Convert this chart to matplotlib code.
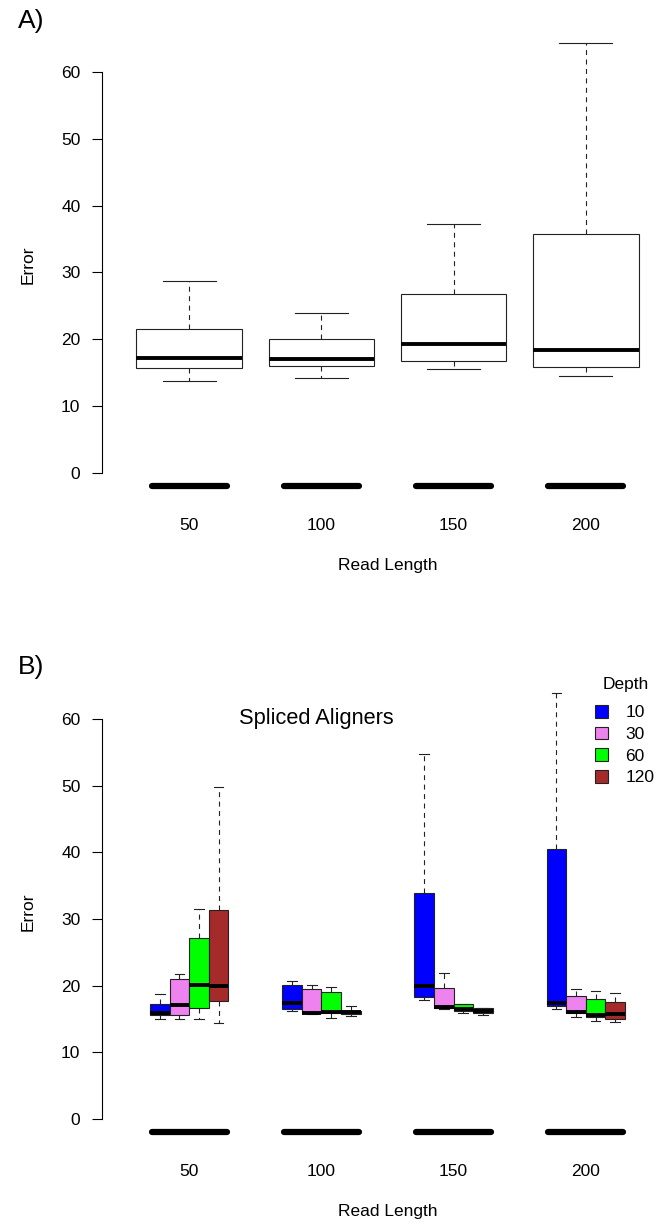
import numpy as np
import matplotlib
matplotlib.use("Agg")
from matplotlib import pyplot as plt
from matplotlib.patches import Patch

read_lengths = ["50", "100", "150", "200"]
depths = ["10", "30", "60", "120"]
depth_colors = ["#0000FF", "#EE82EE", "#00FF00", "#A52A2A"]

# panel A - one box per read length
a_whislo = [13.75, 14.2, 15.55, 14.55]
a_q1 = [15.65, 16.0, 16.7, 15.8]
a_med = [17.15, 17.1, 19.25, 18.45]
a_q3 = [21.55, 20.05, 26.75, 35.8]
a_whishi = [28.7, 23.95, 37.3, 64.4]

# panel B - rows are read lengths, columns are depths
b_whislo = [[15.06, 15.06, 14.97, 14.37],
            [16.22, 15.77, 15.22, 15.47],
            [17.92, 16.50, 15.92, 15.57],
            [16.47, 15.37, 14.72, 14.61]]
b_q1 = [[15.57, 15.57, 16.62, 17.72],
        [16.57, 15.85, 15.90, 15.80],
        [18.32, 16.62, 16.27, 15.87],
        [16.92, 15.87, 15.32, 15.06]]
b_med = [[15.87, 17.07, 20.07, 19.92],
         [17.35, 15.95, 16.00, 16.00],
         [19.97, 16.77, 16.47, 16.17],
         [17.47, 16.02, 15.57, 15.72]]
b_q3 = [[17.27, 21.07, 27.07, 31.33],
        [20.10, 19.45, 19.07, 16.25],
        [33.93, 19.72, 17.22, 16.62],
        [40.55, 18.52, 18.02, 17.52]]
b_whishi = [[18.72, 21.72, 31.48, 49.80],
            [20.77, 20.10, 19.87, 16.92],
            [54.75, 21.97, 17.30, 16.70],
            [63.90, 19.57, 19.22, 18.92]]

# the thick bars drawn below zero in both panels
floor_value = -2.0

plt.rcParams['font.family'] = ['Liberation Sans', 'DejaVu Sans']
base = 12.5
edge = "#222222"

fig = plt.figure(figsize=(6.58, 12.28), dpi=100)
axA = fig.add_axes([0.155, 0.5893, 0.8678, 0.3902])
axB = fig.add_axes([0.155, 0.06327, 0.8678, 0.38926])

def style_axis(ax):
    ax.set_xlim(0.34, 4.66)
    ax.set_ylim(-4.7, 67)
    for s in ['top', 'right', 'bottom']:
        ax.spines[s].set_visible(False)
    ax.spines['left'].set_bounds(0, 60)
    ax.spines['left'].set_linewidth(0.8)
    ax.set_yticks([0, 10, 20, 30, 40, 50, 60])
    ax.tick_params(axis='y', length=7.5, width=0.8, pad=8, labelsize=base)
    ax.tick_params(axis='x', length=0, pad=10, labelsize=base)
    ax.set_xlabel("Read Length", fontsize=base, labelpad=18)
    ax.set_ylabel("Error", fontsize=base, labelpad=18)
    ax.patch.set_alpha(0)
    pos = np.arange(1, 5)
    ax.hlines([floor_value] * 4, pos - 0.285, pos + 0.285, color="black",
              linewidth=4.5, capstyle='round')

def make_stats(lo, q1, med, q3, hi):
    return [dict(whislo=a, q1=b, med=c, q3=d, whishi=e)
            for a, b, c, d, e in zip(lo, q1, med, q3, hi)]

whisk = dict(color=edge, linewidth=0.8, linestyle=(0, (4.5, 4)))
caps = dict(color=edge, linewidth=0.8)
meds = dict(color="black", linewidth=2.8, solid_capstyle='butt')
boxes = dict(edgecolor=edge, linewidth=0.8)

# panel A
style_axis(axA)
statsA = make_stats(a_whislo, a_q1, a_med, a_q3, a_whishi)
bp = axA.bxp(statsA, positions=[1, 2, 3, 4], widths=0.8, showfliers=False,
             patch_artist=True, boxprops=boxes, whiskerprops=whisk,
             capprops=caps, medianprops=meds, capwidths=0.4)
for b in bp['boxes']:
    b.set_facecolor("white")
axA.set_xticks(range(1, 5))
axA.set_xticklabels(read_lengths)

# panel B
style_axis(axB)
bw = 0.148
offsets = np.array([-1.5, -0.5, 0.5, 1.5]) * bw
for j in range(4):
    statsB = make_stats([r[j] for r in b_whislo], [r[j] for r in b_q1],
                        [r[j] for r in b_med], [r[j] for r in b_q3],
                        [r[j] for r in b_whishi])
    bp = axB.bxp(statsB, positions=np.arange(1, 5) + offsets[j], widths=bw,
                 showfliers=False, patch_artist=True, boxprops=boxes,
                 whiskerprops=whisk, capprops=caps, medianprops=meds,
                 capwidths=bw * 0.5)
    for b in bp['boxes']:
        b.set_facecolor(depth_colors[j])
axB.set_xticks(range(1, 5))
axB.set_xticklabels(read_lengths)
axB.text(1.96, 60.0, "Spliced Aligners", fontsize=base * 1.25,
         ha='center', va='center')

# legend, title drawn separately so its gap matches R
handles = [Patch(facecolor=c, edgecolor=edge, linewidth=0.8) for c in depth_colors]
leg = fig.legend(handles, depths, loc='upper left',
                 bbox_to_anchor=(595 / 658, 1 - 705 / 1228), frameon=False,
                 fontsize=base, handlelength=0.75,
                 handleheight=0.75, handletextpad=1.0, labelspacing=0.36,
                 borderaxespad=0, borderpad=0)
fig.text(626 / 658, 1 - 684 / 1228, "Depth", fontsize=base,
         ha='center', va='center')

fig.text(18 / 658, 1 - 21 / 1228, "A)", fontsize=19, ha='left', va='center')
fig.text(18 / 658, 1 - 667 / 1228, "B)", fontsize=19, ha='left', va='center')

fig.savefig("out.png", dpi=100)
